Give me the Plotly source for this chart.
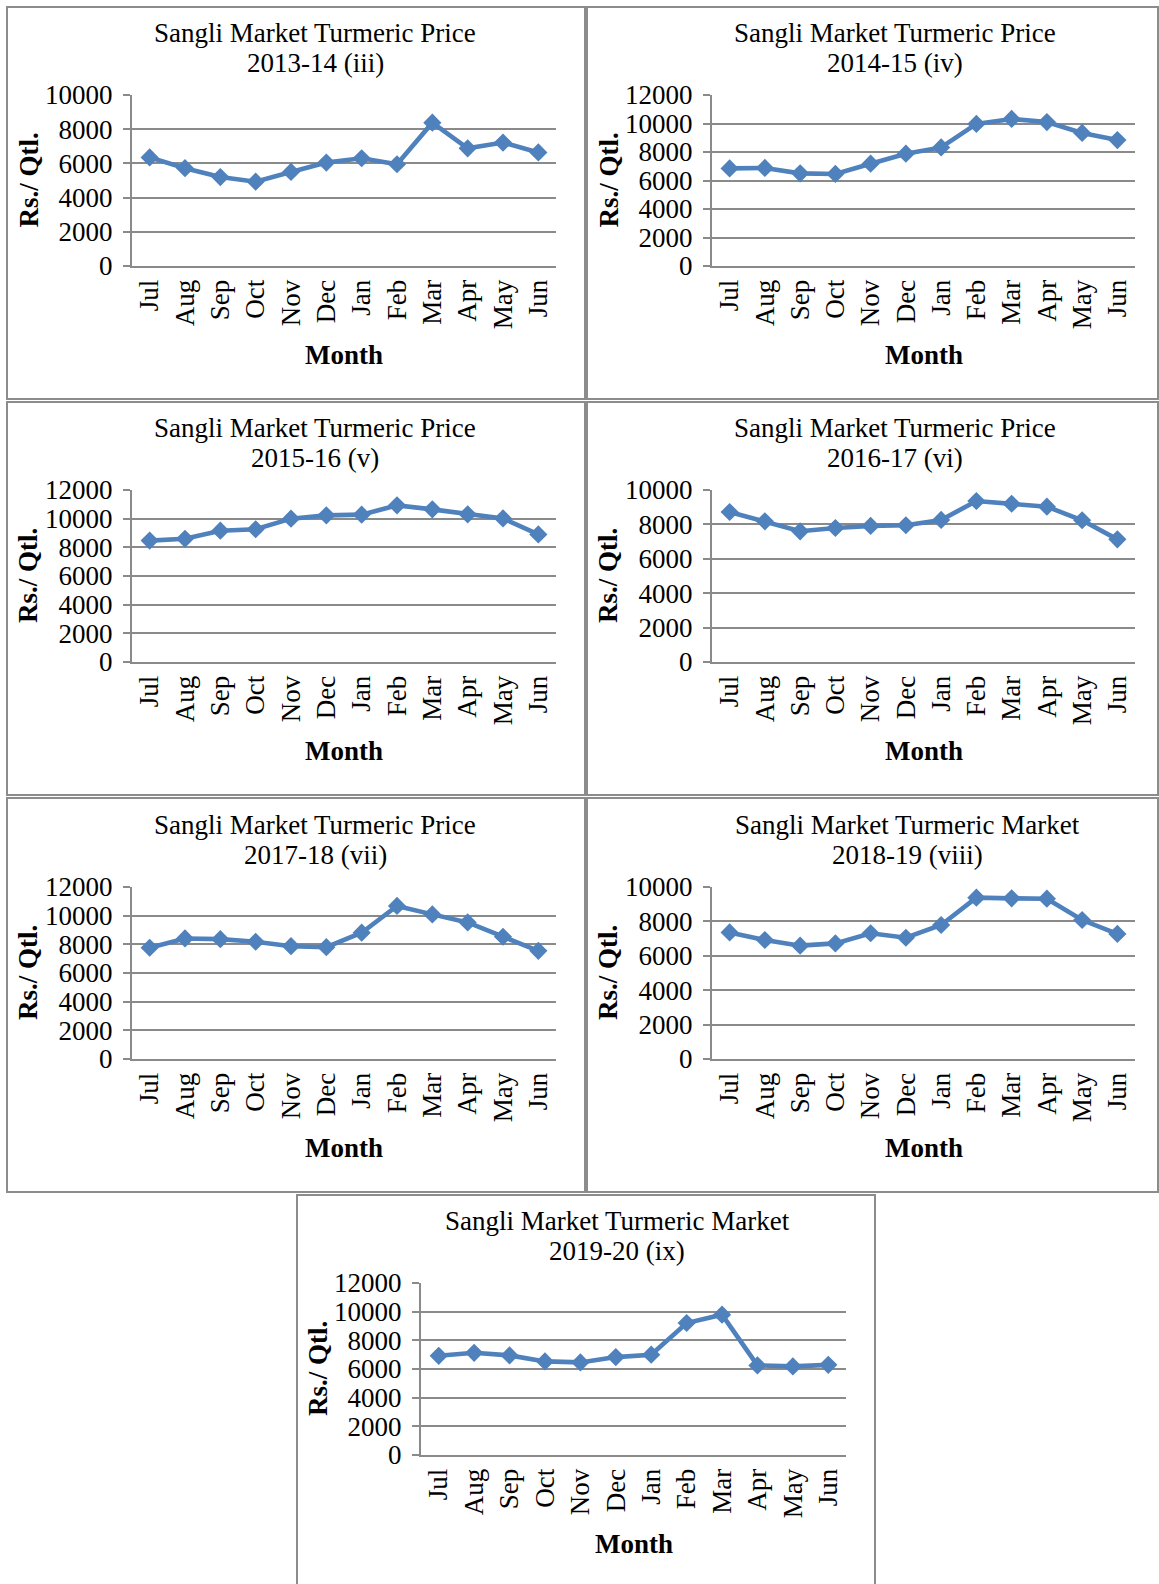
import plotly.graph_objects as go

W, H = 1159, 1584

months = ["Jul", "Aug", "Sep", "Oct", "Nov", "Dec", "Jan", "Feb", "Mar", "Apr", "May", "Jun"]

price_2013_14 = [6350, 5720, 5200, 4930, 5500, 6050, 6300, 5950, 8380, 6880, 7220, 6640]
price_2014_15 = [6850, 6880, 6500, 6460, 7180, 7880, 8320, 9970, 10320, 10100, 9340, 8840]
price_2015_16 = [8470, 8600, 9160, 9260, 10000, 10230, 10280, 10930, 10650, 10300, 10020, 8900]
price_2016_17 = [8720, 8180, 7600, 7790, 7910, 7950, 8260, 9360, 9200, 9030, 8240, 7130]
price_2017_18 = [7760, 8410, 8360, 8180, 7870, 7800, 8810, 10680, 10090, 9530, 8530, 7550]
price_2018_19 = [7360, 6920, 6590, 6720, 7310, 7050, 7790, 9380, 9340, 9320, 8080, 7270]
price_2019_20 = [6920, 7130, 6950, 6530, 6460, 6830, 7000, 9210, 9790, 6250, 6180, 6290]

title_line1 = [
    "Sangli Market Turmeric Price",
    "Sangli Market Turmeric Price",
    "Sangli Market Turmeric Price",
    "Sangli Market Turmeric Price",
    "Sangli Market Turmeric Price",
    "Sangli Market Turmeric Market",
    "Sangli Market Turmeric Market",
]
title_line2 = ["2013-14 (iii)", "2014-15 (iv)", "2015-16 (v)", "2016-17 (vi)",
               "2017-18 (vii)", "2018-19 (viii)", "2019-20 (ix)"]
series = [price_2013_14, price_2014_15, price_2015_16, price_2016_17,
          price_2017_18, price_2018_19, price_2019_20]
y_max = [10000, 12000, 12000, 10000, 12000, 10000, 12000]
y_title = "Rs./ Qtl."
x_title = "Month"

# layout boxes in pixels: panel (left, top, right, bottom), plot area (x0, x1, y0, y1)
panels = [
    ((7, 7, 585, 399), (132, 556, 95, 266)),
    ((587, 7, 1158, 399), (712, 1135, 95, 266)),
    ((7, 402, 585, 795), (132, 556, 490, 662)),
    ((587, 402, 1158, 795), (712, 1135, 490, 662)),
    ((7, 798, 585, 1192), (132, 556, 887, 1059)),
    ((587, 798, 1158, 1192), (712, 1135, 887, 1059)),
    ((297, 1195, 875, 1600), (421, 846, 1283, 1455)),
]
# horizontal centre of the title block, measured from the panel's left edge
title_center = [308, 308, 308, 308, 308, 320, 320]

FONT = "Liberation Serif, Times New Roman, serif"
FS = 27
BLUE = "#4F81BD"
GRID = "#8A8A8A"


def px(x):
    return x / W


def py(y):
    return 1 - y / H


fig = go.Figure()
shapes = []
annotations = []
layout_axes = {}

for i, (vals, t1, t2, ymax, (pbox, abox), tc) in enumerate(
        zip(series, title_line1, title_line2, y_max, panels, title_center)):
    n = i + 1
    xa = "x" if n == 1 else f"x{n}"
    ya = "y" if n == 1 else f"y{n}"
    xkey = "xaxis" if n == 1 else f"xaxis{n}"
    ykey = "yaxis" if n == 1 else f"yaxis{n}"
    pl, pt, pr, pb = pbox
    x0, x1, y0, y1 = abox

    fig.add_trace(go.Scatter(
        x=months, y=vals, mode="lines+markers",
        line=dict(color=BLUE, width=4.6),
        marker=dict(symbol="diamond", size=14, color=BLUE),
        xaxis=xa, yaxis=ya, showlegend=False, cliponaxis=False,
    ))

    layout_axes[xkey] = dict(
        domain=[px(x0), px(x1)], anchor=ya, type="category",
        range=[-0.5, 11.5], tickangle=-90,
        tickfont=dict(family=FONT, size=FS, color="black"),
        showline=True, linecolor=GRID, linewidth=2,
        showgrid=False, ticks="", ticklabelstandoff=1,
        zeroline=False, fixedrange=True, automargin=False,
    )
    layout_axes[ykey] = dict(
        domain=[py(y1), py(y0)], anchor=xa,
        range=[0, ymax], dtick=2000, tick0=0, tickformat="d",
        tickfont=dict(family=FONT, size=FS, color="black"),
        showline=True, linecolor=GRID, linewidth=2,
        showgrid=True, gridcolor=GRID, gridwidth=2,
        ticks="outside", ticklen=7, tickcolor=GRID, tickwidth=2,
        ticklabelstandoff=5, zeroline=False, fixedrange=True, automargin=False,
    )

    shapes.append(dict(
        type="rect", xref="paper", yref="paper",
        x0=px(pl), x1=px(pr), y0=py(pb), y1=py(pt),
        line=dict(color="#8C8C8C", width=2), fillcolor="rgba(0,0,0,0)",
        layer="below",
    ))

    for txt, dy in ((t1, 62.5), (t2, 32.0)):
        annotations.append(dict(
            text=txt, xref="paper", yref="paper",
            x=px(pl + tc), y=py(y0 - dy), xanchor="center", yanchor="middle",
            showarrow=False,
            font=dict(family=FONT, size=FS, color="black"),
        ))
    annotations.append(dict(
        text=f"<b>{y_title}</b>", xref="paper", yref="paper",
        x=px(pl + 21), y=py((y0 + y1) / 2), xanchor="center", yanchor="middle",
        textangle=-90, showarrow=False,
        font=dict(family=FONT, size=FS, color="black"),
    ))
    annotations.append(dict(
        text=f"<b>{x_title}</b>", xref="paper", yref="paper",
        x=px((x0 + x1) / 2), y=py(y1 + 89), xanchor="center", yanchor="middle",
        showarrow=False,
        font=dict(family=FONT, size=FS, color="black"),
    ))

fig.update_layout(
    width=W, height=H, autosize=False,
    margin=dict(l=0, r=0, t=0, b=0, pad=0, autoexpand=False),
    paper_bgcolor="white", plot_bgcolor="white",
    shapes=shapes, annotations=annotations,
    **layout_axes,
)

post = (
    "document.documentElement.style.margin='0';"
    "document.documentElement.style.overflow='hidden';"
    "document.body.style.margin='0';"
    "document.body.style.padding='0';"
    "document.body.style.overflow='hidden';"
    "var d=document.getElementsByClassName('plotly-graph-div')[0];"
    "d.style.position='absolute';d.style.left='0px';d.style.top='0px';"
)
fig.write_html("out.html", post_script=post, config={"displayModeBar": False})
